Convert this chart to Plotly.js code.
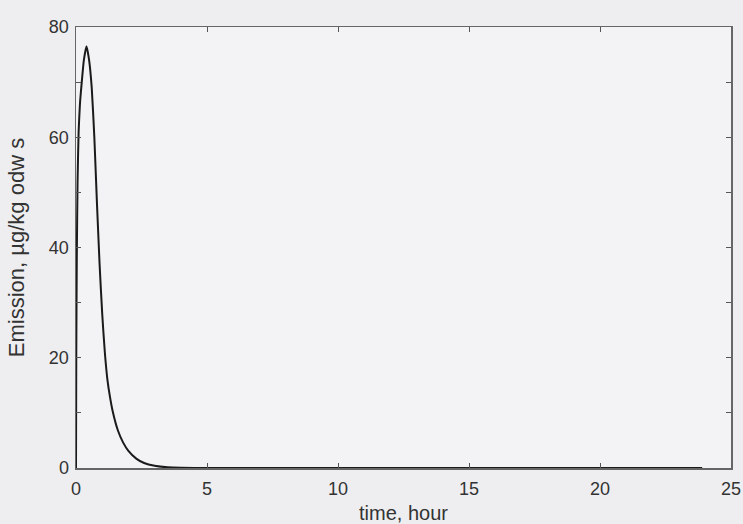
<!DOCTYPE html>
<html>
<head>
<meta charset="utf-8">
<script src="https://cdn.plot.ly/plotly-3.0.1.min.js"></script>
<style>html,body{margin:0;padding:0;background:#eeeef0;}#chart{width:743px;height:524px;}</style>
</head>
<body>
<div id="chart"></div>
<script>
// time in hours
const timeHours = [0, 0.01, 0.03, 0.06, 0.1, 0.15, 0.22, 0.3, 0.4, 0.5, 0.6, 0.7, 0.8, 0.9, 1.0, 1.1, 1.2, 1.3, 1.4, 1.6, 1.8, 2.0, 2.3, 2.6, 3.0, 3.5, 4.0, 5.0, 10.0, 15.0, 20.0, 23.9];
// emission, µg/kg odw s
const emission = [0, 20, 38, 52, 61, 66, 70, 74, 76.5, 74, 69, 60, 48, 37, 28, 21, 16, 12.8, 10.3, 6.8, 4.6, 3.1, 1.7, 0.9, 0.4, 0.12, 0.04, 0, 0, 0, 0, 0];
const xTicks = [0, 5, 10, 15, 20, 25];
const yTicks = [0, 20, 40, 60, 80];

const trace = {
  x: timeHours,
  y: emission,
  type: 'scatter',
  mode: 'lines',
  line: {color: '#1a1a1a', width: 2, shape: 'spline', smoothing: 0.5},
  hoverinfo: 'skip'
};

const fontFam = 'Liberation Sans, Arial, sans-serif';
const layout = {
  width: 743, height: 524,
  margin: {l: 76, r: 12, t: 27, b: 56},
  paper_bgcolor: '#eeeef0',
  plot_bgcolor: '#f3f3f5',
  showlegend: false,
  font: {family: fontFam, size: 18, color: '#333'},
  xaxis: {
    range: [0, 25],
    tickvals: xTicks,
    ticktext: xTicks.map(String),
    ticks: 'inside', ticklen: 5, tickcolor: '#555',
    ticklabelstandoff: 4,
    showline: true, linecolor: '#666', linewidth: 1.5, mirror: 'ticks',
    showgrid: false, zeroline: false,
    tickfont: {size: 18, color: '#333'},
    title: {text: 'time, hour', font: {size: 20, color: '#333'}, standoff: 8}
  },
  yaxis: {
    range: [0, 80],
    tickvals: yTicks,
    ticktext: yTicks.map(String),
    ticks: 'inside', ticklen: 5, tickcolor: '#555',
    ticklabelstandoff: 2,
    minor: {dtick: 10, ticks: 'inside', ticklen: 5, tickcolor: '#555'},
    showline: true, linecolor: '#666', linewidth: 1.5, mirror: 'ticks',
    showgrid: false, zeroline: false,
    tickfont: {size: 18, color: '#333'},
    title: {text: 'Emission, µg/kg odw s', font: {size: 22, color: '#333'}, standoff: 18}
  }
};

Plotly.newPlot('chart', [trace], layout, {displayModeBar: false, staticPlot: true});
</script>
</body>
</html>
